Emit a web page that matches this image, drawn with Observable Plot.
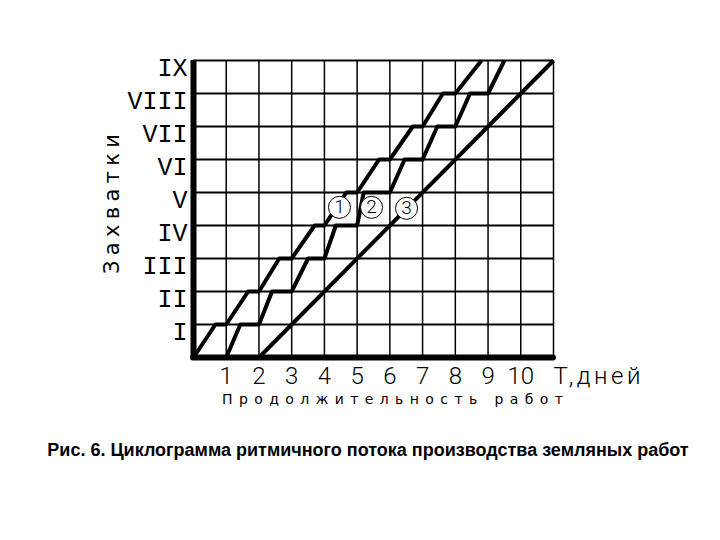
<!DOCTYPE html>
<html>
<head>
<meta charset="utf-8">
<script src="https://cdn.jsdelivr.net/npm/d3@7"></script>
<script src="https://cdn.jsdelivr.net/npm/@observablehq/plot@0.6"></script>
<style>
  html, body { margin: 0; padding: 0; background: #fff; }
  #caption {
    width: 704px; padding-left: 16px; text-align: center;
    font-family: "Liberation Sans", Arial, sans-serif; font-weight: bold;
    font-size: 18px; line-height: 20px; color: #000; padding-top: 10px; letter-spacing: 0px;
  }
</style>
</head>
<body>
<script>
// ---- data ----
const dayTicks = [1, 2, 3, 4, 5, 6, 7, 8, 9, 10];
const gridDays = [1, 2, 3, 4, 5, 6, 7, 8, 9, 10, 11];
const gridLevels = [1, 2, 3, 4, 5, 6, 7, 8, 9];
const levelLabels = ["I", "II", "III", "IV", "V", "VI", "VII", "VIII", "IX"];

const flow1Days   = [0, 0.67, 1, 1.67, 2, 2.62, 3, 3.7, 4, 4.67, 5, 5.67, 6, 6.7, 7, 7.62, 8, 8.8];
const flow1Levels = [0, 1,    1, 2,    2, 3,    3, 4,   4, 5,    5, 6,    6, 7,   7, 8,    8, 9];

const flow2Days   = [1, 1.43, 2, 2.4, 3, 3.5, 4, 4.35, 5, 5.2, 6, 6.45, 7, 7.45, 8, 8.45, 9, 9.5];
const flow2Levels = [0, 1,    1, 2,   2, 3,   3, 4,    4, 5,   5, 6,    6, 7,    7, 8,    8, 9];

const flow3Days   = [2, 11];
const flow3Levels = [0, 9];

const markerDays   = [4.46, 5.44, 6.51];
const markerLevels = [4.55, 4.55, 4.52];
const markerText   = ["1", "2", "3"];

const unitLabel = "Т,дней";
const xTitle = "Продолжительность работ";
const yTitle = "Захватки";
const captionText = "Рис. 6. Циклограмма ритмичного потока производства земляных работ";

// ---- chart ----
const lineOf = (xs, ys) => Plot.line({length: xs.length}, {
  x: xs, y: ys, stroke: "#000", strokeWidth: 4, strokeLinejoin: "round", strokeLinecap: "butt"
});

const chart = Plot.plot({
  width: 720,
  height: 430,
  marginLeft: 193,
  marginRight: 167,
  marginTop: 60,
  marginBottom: 73,
  x: {domain: [0, 11], axis: null},
  y: {domain: [0, 9], axis: null},
  style: {background: "#fff", overflow: "visible"},
  marks: [
    Plot.ruleX(gridDays, {y1: 0, y2: 9, stroke: "#000", strokeWidth: 1.5}),
    Plot.ruleY(gridLevels, {x1: 0, x2: 11, stroke: "#000", strokeWidth: 2}),
    lineOf(flow3Days, flow3Levels),
    lineOf(flow1Days, flow1Levels),
    lineOf(flow2Days, flow2Levels),
    Plot.dot(markerText, {x: markerDays, y: markerLevels, r: 11, fill: "#fff", stroke: "#000", strokeWidth: 1}),
    Plot.text(markerText, {x: markerDays, y: markerLevels, text: d => d, fontSize: 19,
      fontFamily: "Roboto, sans-serif", fontWeight: 300, fill: "#000"}),
    Plot.ruleX([0], {y1: 0, y2: 9, stroke: "#000", strokeWidth: 6}),
    Plot.ruleY([0], {x1: 0, x2: 11, stroke: "#000", strokeWidth: 6, strokeLinecap: "round"}),
    Plot.text(dayTicks, {x: d => d, y: 0, text: d => String(d), dx: 0, dy: 19, fontSize: 24,
      fontFamily: "Roboto, sans-serif", fontWeight: 300, fill: "#000"}),
    Plot.text([unitLabel], {x: 11, y: 0, text: d => d, textAnchor: "start", dx: 0, dy: 19, fontSize: 24,
      fontFamily: "Roboto, sans-serif", fontWeight: 300, fill: "#000"}),
    Plot.text(levelLabels, {x: 0, y: (d, i) => i + 1, text: d => d, textAnchor: "end", dx: -6, dy: 7,
      fontSize: 25, fontFamily: "Liberation Mono, monospace", fill: "#000"}),
    Plot.text([xTitle], {frameAnchor: "bottom", textAnchor: "middle", text: d => d, dx: 19, dy: 46, fontSize: 14,
      fontFamily: "DejaVu Sans, sans-serif", fill: "#000"}),
    Plot.text([yTitle], {frameAnchor: "left", textAnchor: "middle", text: d => d, rotate: -90, dx: -81, dy: -5,
      fontSize: 21, fontFamily: "DejaVu Sans, sans-serif", fill: "#000"})
  ]
});

document.body.append(chart);
const stretch = {[xTitle]: 341, [yTitle]: 140, [unitLabel]: 87};
d3.select(chart).selectAll("text").each(function () {
  const t = this.textContent;
  if (stretch[t]) d3.select(this).attr("textLength", stretch[t]).attr("lengthAdjust", "spacing");
});

const cap = document.createElement("div");
cap.id = "caption";
cap.textContent = captionText;
document.body.append(cap);
</script>
</body>
</html>
